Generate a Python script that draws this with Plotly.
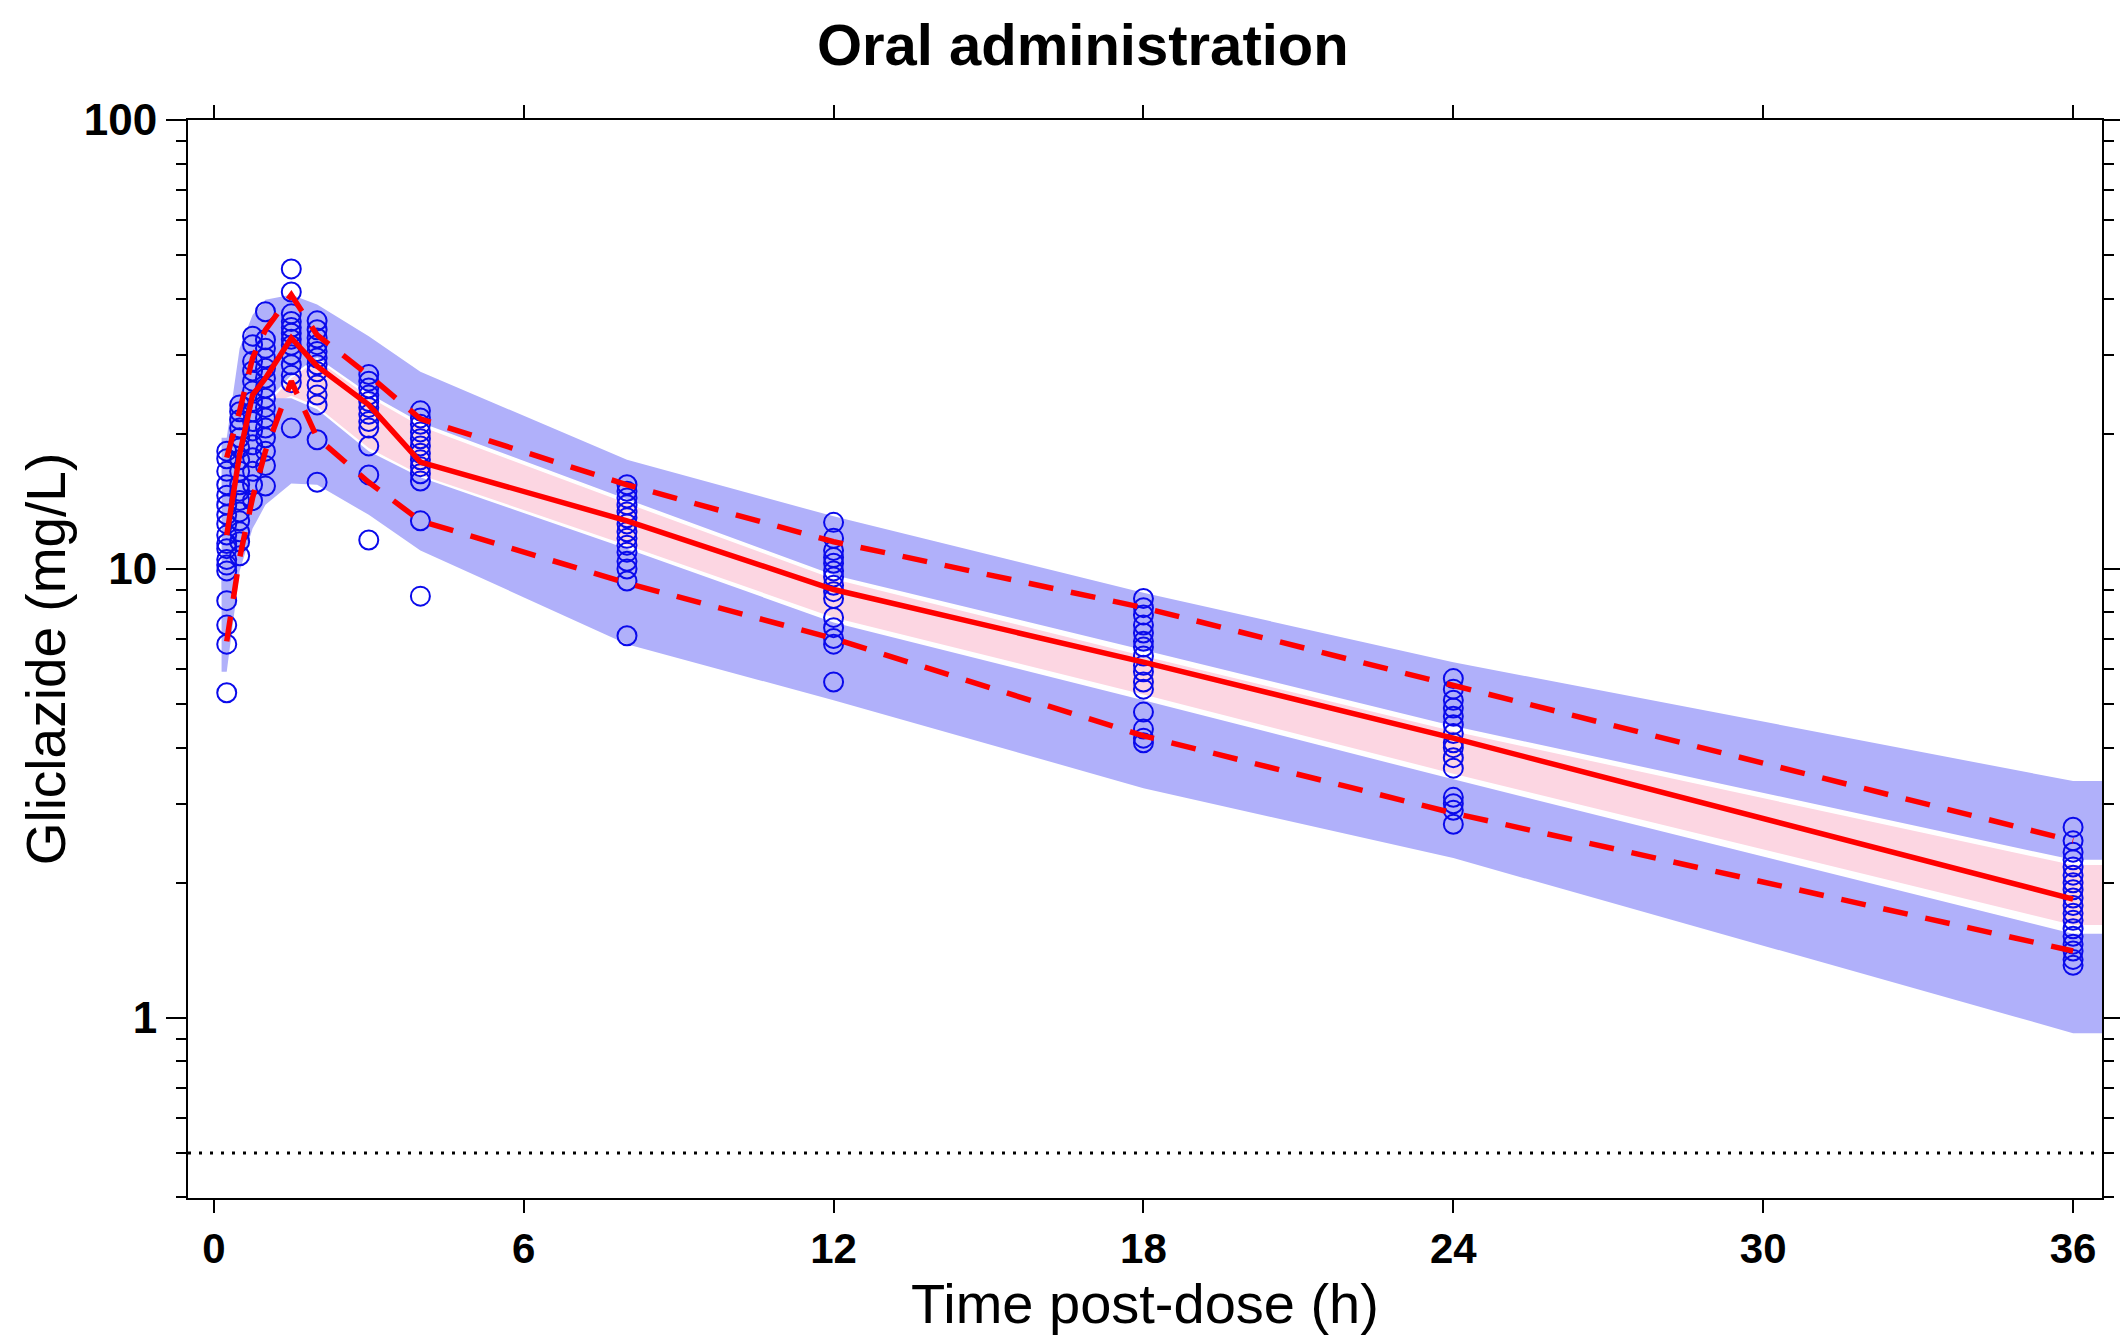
import plotly.graph_objects as go

# ---------------- data ----------------
obs_times = [0.25, 0.5, 0.75, 1, 1.5, 2, 3, 4, 8, 12, 18, 24, 36]

obs_conc = [
    [18.3, 17.6, 16.5, 15.4, 14.6, 13.9, 13.2, 12.6, 11.9, 11.4, 11.1, 10.5, 10.2, 9.9, 8.5, 7.5, 6.8, 5.3],
    [23.2, 22.4, 21.5, 20.6, 19.6, 18.6, 17.5, 16.5, 15.4, 14.9, 14.2, 13.4, 12.8, 12.1, 11.5, 10.7],
    [33.0, 31.6, 29.0, 27.6, 26.2, 24.9, 23.6, 22.4, 21.3, 20.3, 18.9, 17.7, 16.5, 15.4, 14.2],
    [37.4, 32.4, 31.0, 29.5, 28.0, 26.6, 25.3, 24.0, 22.9, 21.7, 20.6, 19.6, 18.3, 17.0, 15.3],
    [46.6, 41.4, 37.0, 35.6, 34.5, 33.5, 32.5, 31.5, 30.0, 28.5, 27.0, 26.0, 20.6],
    [35.7, 34.1, 32.7, 31.6, 30.5, 29.5, 28.5, 27.5, 25.7, 24.4, 23.2, 19.4, 15.6],
    [27.1, 26.2, 25.3, 24.4, 23.6, 22.9, 22.1, 21.3, 20.6, 18.8, 16.2, 11.6],
    [22.5, 21.7, 21.0, 20.2, 19.5, 18.8, 18.1, 17.5, 16.9, 16.3, 15.7, 12.8, 8.7],
    [15.4, 14.9, 14.4, 13.9, 13.4, 13.0, 12.6, 12.1, 11.7, 11.3, 10.9, 10.4, 10.0, 9.4, 7.1],
    [12.7, 11.7, 11.0, 10.6, 10.3, 9.9, 9.6, 9.2, 8.9, 8.6, 7.8, 7.4, 7.0, 6.8, 5.6],
    [8.6, 8.2, 7.9, 7.5, 7.2, 6.9, 6.7, 6.4, 6.1, 5.9, 5.6, 5.4, 4.8, 4.4, 4.2, 4.1],
    [5.7, 5.4, 5.1, 4.9, 4.7, 4.5, 4.3, 4.1, 4.0, 3.8, 3.6, 3.1, 3.0, 2.9, 2.7],
    [2.66, 2.48, 2.34, 2.25, 2.17, 2.08, 2.0, 1.93, 1.85, 1.78, 1.71, 1.65, 1.58, 1.52, 1.46, 1.41, 1.35, 1.31],
]

# observed percentiles (red lines)
obs_median = [11.9, 18.0, 24.4, 26.6, 32.7, 28.3, 23.2, 17.3, 12.8, 9.0, 6.2, 4.2, 1.84]
obs_p95 = [17.7, 22.5, 29.5, 34.1, 40.8, 33.2, 27.0, 21.6, 15.4, 11.5, 8.2, 5.5, 2.48]
obs_p5 = [6.9, 10.6, 14.4, 18.3, 26.2, 19.6, 15.6, 12.8, 9.3, 7.0, 4.25, 2.86, 1.41]

# simulated confidence intervals (shaded bands)
band_t = [0.15, 0.25, 0.5, 0.75, 1, 1.5, 2, 3, 4, 8, 12, 18, 24, 36, 36.6]
p95_hi = [19.6, 19.6, 31.0, 36.8, 39.8, 40.8, 38.8, 33.0, 27.5, 17.5, 13.1, 8.85, 6.2, 3.37, 3.37]
p95_lo = [9.0, 9.0, 14.0, 19.0, 23.5, 27.0, 29.6, 24.6, 21.2, 14.3, 9.7, 6.6, 4.47, 2.25, 2.25]
med_hi = [9.0, 9.0, 14.0, 19.0, 23.0, 26.6, 29.2, 24.2, 20.8, 14.0, 9.5, 6.4, 4.35, 2.19, 2.19]
med_lo = [9.0, 9.0, 14.0, 19.0, 23.0, 24.3, 23.0, 18.6, 16.2, 11.3, 7.8, 5.25, 3.5, 1.61, 1.61]
p5_hi = [10.0, 10.0, 15.0, 20.0, 24.0, 24.0, 22.7, 18.3, 16.0, 11.1, 7.6, 5.1, 3.4, 1.54, 1.54]
p5_lo = [5.9, 5.9, 9.9, 12.3, 13.9, 15.5, 15.4, 13.2, 11.0, 6.8, 5.1, 3.25, 2.27, 0.925, 0.925]

LLOQ = 0.5

x_ticks = [0, 6, 12, 18, 24, 30, 36]
y_ticks = [1, 10, 100]
y_ticklabels = ["1", "10", "100"]

# ---------------- styles ----------------
BLUE_BAND = "rgb(176,176,250)"
PINK_BAND = "rgb(252,214,226)"
RED = "rgb(255,0,0)"
MARKER_BLUE = "rgb(10,10,235)"

fig = go.Figure()


def add_band(lo, hi, color):
    fig.add_trace(go.Scatter(x=band_t, y=lo, mode="lines", line=dict(width=0),
                             hoverinfo="skip", showlegend=False))
    fig.add_trace(go.Scatter(x=band_t, y=hi, mode="lines", line=dict(width=0),
                             fill="tonexty", fillcolor=color,
                             hoverinfo="skip", showlegend=False))


add_band(med_lo, med_hi, PINK_BAND)
add_band(p95_lo, p95_hi, BLUE_BAND)
add_band(p5_lo, p5_hi, BLUE_BAND)

# observations
xs, ys = [], []
for t, vals in zip(obs_times, obs_conc):
    xs += [t] * len(vals)
    ys += vals
fig.add_trace(go.Scatter(
    x=xs, y=ys, mode="markers",
    marker=dict(symbol="circle-open", size=19, color=MARKER_BLUE, line=dict(width=2)),
    showlegend=False))

# observed percentile lines
fig.add_trace(go.Scatter(x=obs_times, y=obs_p95, mode="lines",
                         line=dict(color=RED, width=5.5, dash="25px,18px"), showlegend=False))
fig.add_trace(go.Scatter(x=obs_times, y=obs_p5, mode="lines",
                         line=dict(color=RED, width=5.5, dash="25px,18px"), showlegend=False))
fig.add_trace(go.Scatter(x=obs_times, y=obs_median, mode="lines",
                         line=dict(color=RED, width=5.5), showlegend=False))

# LLOQ dotted line
fig.add_shape(type="line", xref="paper", x0=0, x1=1, yref="y", y0=LLOQ, y1=LLOQ,
              line=dict(color="black", width=3, dash="3px,8px"))

minor_vals = [d * 10 ** k for k in (-1, 0, 1) for d in range(2, 10) if 0.4 <= d * 10 ** k <= 100]

# y-axis title as rotated annotation (axis titles are constrained to the margin)
fig.add_annotation(text="Gliclazide (mg/L)", textangle=-90, showarrow=False,
                   xref="paper", yref="paper", x=-0.074, y=0.5,
                   xanchor="center", yanchor="middle",
                   font=dict(family="Liberation Sans, Arial", size=55, color="black"))

fig.update_layout(
    width=2128, height=1341,
    margin=dict(l=180, r=29, t=112, b=151),
    paper_bgcolor="white", plot_bgcolor="white",
    title=dict(text="<b>Oral administration</b>", x=0.4675, xref="paper", xanchor="center",
               y=0.9724, yref="container", yanchor="middle",
               font=dict(family="Liberation Sans, Arial", size=58, color="black")),
    xaxis=dict(
        range=[-0.5, 36.56], tickvals=x_ticks, ticks="outside", ticklen=13, tickwidth=2,
        tickcolor="black", showline=True, linewidth=2, linecolor="black", mirror="allticks",
        showgrid=False, zeroline=False,
        tickfont=dict(family="Liberation Sans, Arial", size=42, color="black", weight="bold"),
        title=dict(text="Time post-dose (h)", standoff=10,
                   font=dict(family="Liberation Sans, Arial", size=56, color="black")),
    ),
    yaxis=dict(
        type="log", range=[-0.401, 2], tickvals=y_ticks, ticktext=y_ticklabels,
        ticks="outside", ticklen=20, tickwidth=2, tickcolor="black",
        showline=True, linewidth=2, linecolor="black", mirror="allticks",
        showgrid=False, zeroline=False,
        minor=dict(tickvals=minor_vals, ticks="outside", ticklen=10, tickwidth=2,
                   tickcolor="black", showgrid=False),
        tickfont=dict(family="Liberation Sans, Arial", size=44, color="black", weight="bold"),
    ),
)

fig.write_html("out.html")
